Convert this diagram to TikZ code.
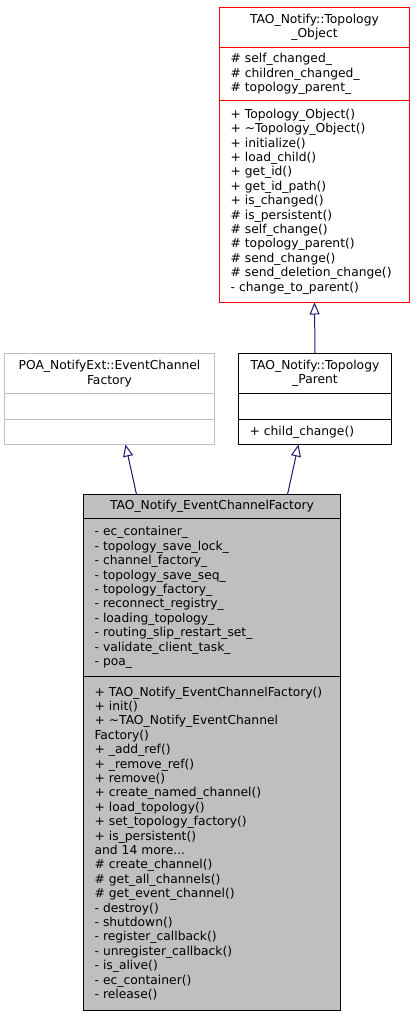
\documentclass[tikz,border=0pt]{standalone}
\usepackage{fontspec}
\setmainfont{DejaVu Sans}
\usepackage{tikz}
\usepackage{xcolor}
\usetikzlibrary{
    arrows.meta,
    positioning
}
\definecolor{edgeblue}{HTML}{191970}
\definecolor{boxgray}{HTML}{BFBFBF}
\definecolor{boxred}{HTML}{FF0000}
\tikzset{cpart/.style={draw, rectangle, outer sep=0pt, inner xsep=11pt, inner ysep=0pt, line width=1pt, font=\fontsize{12.3}{14.4}\selectfont}}
\tikzset{chead/.style={cpart, align=center, inner xsep=3pt}}
\tikzset{cbody/.style={cpart, align=left}}
\tikzset{redpart/.style={draw=boxred}}
\tikzset{inherit/.style={draw=edgeblue, line width=1pt, -{Triangle[open, length=12pt, width=10pt]}}}

\begin{document}
\begin{tikzpicture}
\useasboundingbox (0,0) rectangle (415pt,-1016pt);
% TAO_Notify::Topology_Object
\node[chead, redpart, anchor=north, minimum width=190pt, text width=184pt, minimum height=40pt] (objh) at (314.5pt,-7.5pt) {TAO\_Notify::Topology\\\_Object};
\node[cbody, redpart, below=0pt of objh, minimum width=190pt, text width=168pt, minimum height=53pt] (obja) {\# self\_changed\_\\\# children\_changed\_\\\# topology\_parent\_};
\node[cbody, redpart, below=0pt of obja, minimum width=190pt, text width=168pt, minimum height=202pt] (objm) {+ Topology\_Object()\\+ \textasciitilde Topology\_Object()\\+ initialize()\\+ load\_child()\\+ get\_id()\\+ get\_id\_path()\\+ is\_changed()\\\# is\_persistent()\\\# self\_change()\\\# topology\_parent()\\\# send\_change()\\\# send\_deletion\_change()\\- change\_to\_parent()};
% POA_NotifyExt::EventChannelFactory
\node[chead, draw=boxgray, anchor=north, minimum width=210pt, text width=204pt, minimum height=40pt] (poah) at (109.5pt,-353.5pt) {POA\_NotifyExt::EventChannel\\Factory};
\node[cbody, draw=boxgray, below=0pt of poah, minimum width=210pt, text width=188pt, minimum height=26pt] (poaa) {};
\node[cbody, draw=boxgray, below=0pt of poaa, minimum width=210pt, text width=188pt, minimum height=25pt] (poam) {};
% TAO_Notify::Topology_Parent
\node[chead, anchor=north, minimum width=153pt, text width=147pt, minimum height=40pt] (parh) at (315pt,-353.5pt) {TAO\_Notify::Topology\\\_Parent};
\node[cbody, below=0pt of parh, minimum width=153pt, text width=131pt, minimum height=26pt] (para) {};
\node[cbody, below=0pt of para, minimum width=153pt, text width=131pt, minimum height=25pt] (parm) {+ child\_change()};
% TAO_Notify_EventChannelFactory
\node[chead, fill=boxgray, anchor=north, minimum width=257pt, text width=251pt, minimum height=24pt] (ecfh) at (212pt,-494.5pt) {TAO\_Notify\_EventChannelFactory};
\node[cbody, fill=boxgray, below=0pt of ecfh, minimum width=257pt, text width=235pt, minimum height=158pt] (ecfa) {- ec\_container\_\\- topology\_save\_lock\_\\- channel\_factory\_\\- topology\_save\_seq\_\\- topology\_factory\_\\- reconnect\_registry\_\\- loading\_topology\_\\- routing\_slip\_restart\_set\_\\- validate\_client\_task\_\\- poa\_};
\node[cbody, fill=boxgray, below=0pt of ecfa, minimum width=257pt, text width=235pt, minimum height=334pt] (ecfm) {+ TAO\_Notify\_EventChannelFactory()\\+ init()\\+ \textasciitilde TAO\_Notify\_EventChannel\\Factory()\\+ \_add\_ref()\\+ \_remove\_ref()\\+ remove()\\+ create\_named\_channel()\\+ load\_topology()\\+ set\_topology\_factory()\\+ is\_persistent()\\and 14 more...\\\# create\_channel()\\\# get\_all\_channels()\\\# get\_event\_channel()\\- destroy()\\- shutdown()\\- register\_callback()\\- unregister\_callback()\\- is\_alive()\\- ec\_container()\\- release()};
\draw[inherit] ([xshift=-75.5pt]ecfh.north) -- ([xshift=16pt]poam.south);
\draw[inherit] ([xshift=75.5pt]ecfh.north) -- ([xshift=-16.5pt]parm.south);
\draw[inherit] (parh.north) -- (objm.south);
\end{tikzpicture}
\end{document}
